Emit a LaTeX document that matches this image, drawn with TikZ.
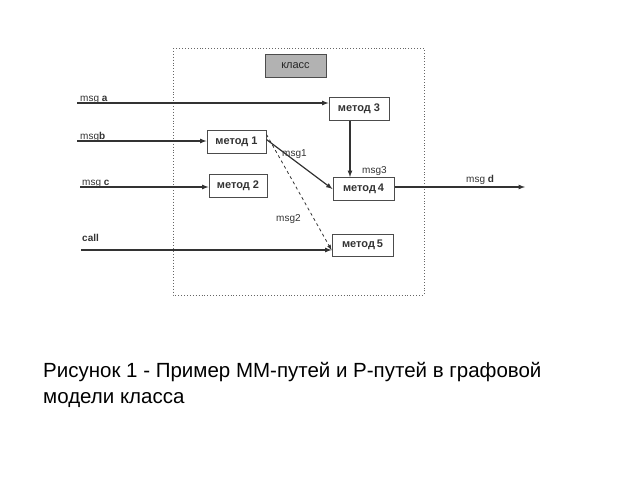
\documentclass[tikz,border=0pt]{standalone}
\usepackage{fontspec}
\setmainfont{Liberation Sans}
\begin{document}
\begin{tikzpicture}[x=1pt,y=-1pt,
  box/.style={draw=black!70,line width=1pt,minimum width=60pt,minimum height=23pt,inner sep=0pt,font=\fontsize{11}{11}\selectfont\bfseries\color{black!80}},
  lab/.style={font=\fontsize{10}{10}\selectfont,inner sep=0pt,anchor=base west,text=black!80},
  arr/.style={->,>=latex,line width=1.2pt,draw=black!80}]
\useasboundingbox (0,0) rectangle (640,480);
\draw[dotted,black!60,line width=0.9pt] (173,48) rectangle (424,295);
\node[box,fill=black!30,minimum width=61pt,font=\fontsize{11}{11}\selectfont\color{black!85}] (k) at (295.5,65.5) {класс};
\node[box] (m3) at (359,108.5) {метод 3};
\node[box,minimum width=59pt] (m1) at (236.5,141.5) {метод 1};
\node[box,minimum width=58pt] (m2) at (238,185.5) {метод 2};
\node[box,minimum width=61pt] (m4) at (363.5,189) {метод\,4};
\node[box,minimum width=61pt,minimum height=22pt] (m5) at (362.5,245) {метод\,5};
\coordinate (a) at (77,103); \coordinate (b) at (77,141);
\coordinate (c) at (80,187); \coordinate (cl) at (81,250);
\coordinate (d) at (525,187);
\draw[arr] (a) -- (m3.west|-a);
\draw[arr] (b) -- (m1.west|-b);
\draw[arr] (c) -- (m2.west|-c);
\draw[arr] (cl) -- (m5.west|-cl);
\draw[arr] (m4.east|-d) -- (d);
\draw[arr] (m3.south-|350,0) -- (m4.north-|350,0);
\draw[arr] ([yshift=2pt]m1.east) -- (m4.west);
\draw[arr,dashed,line width=0.8pt] ([yshift=7pt]m1.east) -- ([yshift=-5pt]m5.west);
\node[lab] at (80,101) {msg \textbf{a}};
\node[lab] at (80,139) {msg\textbf{b}};
\node[lab] at (82,185) {msg \textbf{c}};
\node[lab] at (82,241) {\textbf{call}};
\node[lab] at (466,182) {msg \textbf{d}};
\node[lab] at (282,156) {msg1};
\node[lab] at (362,173) {msg3};
\node[lab] at (276,221) {msg2};
\node[anchor=base west,inner sep=0pt,font=\fontsize{20.5}{20.5}\selectfont] at (43,377) {Рисунок 1 - Пример ММ-путей и Р-путей в графовой};
\node[anchor=base west,inner sep=0pt,font=\fontsize{20.5}{20.5}\selectfont] at (43,403) {модели класса};
\end{tikzpicture}
\end{document}
